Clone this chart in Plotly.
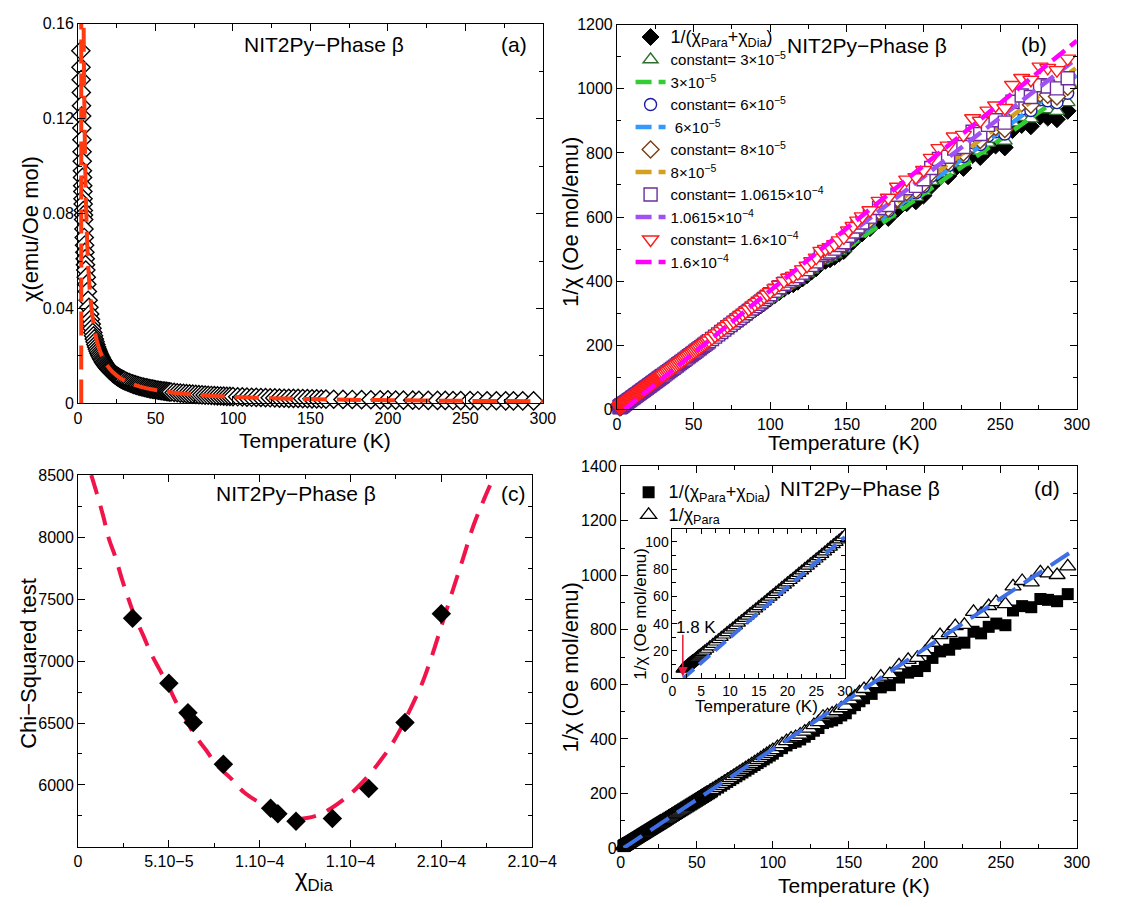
import plotly.graph_objects as go

FONT = "Liberation Sans, Arial, Helvetica, sans-serif"
W, H = 1135, 907


def px(x):
    return x / W


def py(y):
    return 1 - y / H


# ---------------------------------------------------------------------------
# Measured data: temperature (K) and 1/chi of the raw susceptibility (Oe mol/emu)
# ---------------------------------------------------------------------------
temperature_K = [
    1.8, 1.9, 2.0, 2.1, 2.2, 2.3, 2.4, 2.5, 2.6, 2.7, 2.8, 2.9, 3.0, 3.1, 3.2, 3.3,
    3.4, 3.5, 3.6, 3.8, 4.0, 4.2, 4.4, 4.6, 4.8, 5.0, 5.3, 5.6, 6.0, 6.5, 7.0, 7.5,
    8.0, 8.5, 9.0, 9.5, 10.0, 10.5, 11.0, 11.5, 12.0, 12.5, 13.0, 13.5, 14.0, 14.5,
    15.0, 15.5, 16.0, 16.5, 17.0, 17.5, 18.0, 18.5, 19.0, 19.5, 20.0, 20.5, 21.0,
    21.5, 22.0, 22.5, 23.0, 23.5, 24.0, 24.5, 25.0, 25.5, 26.0, 26.5, 27.0, 27.5,
    28.0, 28.5, 29.0, 29.5, 30.0,
    31, 32, 33, 34, 35, 36, 37, 38, 39, 40, 41, 42, 43, 44, 45, 46, 47, 48, 49, 50,
    51, 52, 53, 54, 55, 56, 57, 58, 59, 60,
    62, 64, 66, 68, 70, 72, 74, 76, 78, 80, 82, 84, 86, 88, 90, 92, 94, 96, 98, 100,
    103, 106, 109, 112, 115, 118, 121, 124, 127, 130, 133, 136, 139, 142, 145, 148,
    151, 154, 157, 160, 165, 171, 177, 183, 189, 195, 200, 205, 210, 216, 220, 226,
    232, 237, 242, 247, 253, 258, 264, 270, 276, 281, 287, 294,
]
inv_chi_total = [
    6.73, 7.06, 7.33, 7.63, 7.97, 8.26, 8.62, 9.00, 9.43, 9.80, 10.2, 10.5, 10.9, 11.2,
    11.6, 11.9, 12.3, 12.6, 12.9, 13.6, 14.3, 15.0, 15.7, 16.4, 17.1, 17.8, 18.8, 19.9,
    21.2, 23.0, 24.7, 26.5, 28.2, 29.9, 31.6, 33.4, 35.1, 36.8, 38.5, 40.3, 42.0, 43.7,
    45.4, 47.2, 48.9, 50.6, 52.3, 54.0, 55.7, 57.5, 59.2, 60.9, 62.6, 64.4, 66.1, 67.8,
    69.5, 71.2, 72.9, 74.7, 76.4, 78.1, 79.8, 81.5, 83.3, 85.0, 86.7, 88.4, 90.1, 91.8,
    93.6, 95.3, 97.0, 98.7, 100.4, 102.1, 103.8,
    107.3, 110.8, 114.2, 117.7, 121.1, 124.6, 128.0, 131.5, 135.0, 138.4, 141.9, 145.3,
    148.8, 152.3, 155.7, 159.2, 162.6, 166.1, 169.5, 173.0, 176.5, 179.9, 183.4, 186.8,
    190.3, 193.8, 197.2, 200.7, 204.1, 207.6,
    214.5, 221.4, 228.3, 235.3, 242.2, 249.1, 256.0, 262.9, 269.8, 276.7, 283.6, 290.5,
    297.4, 304.3, 311.2, 318.1, 325.0, 331.9, 338.8, 345.7,
    356, 366, 376, 385, 390, 398, 408, 418, 430, 440, 458, 463, 468, 476, 486, 494,
    512, 524, 538, 549, 565, 589, 597, 625, 643, 649, 667, 697, 721, 727, 749, 753,
    793, 787, 811, 823, 817, 871, 887, 883, 913, 910, 905, 931,
]
chi_total = [1.0 / v for v in inv_chi_total]

# Curie-Weiss fit of chi(T) drawn in panel (a)
fit_a_T = [2.6, 3.0, 3.5, 4.0, 4.5, 5.0, 6.0, 7.0, 8.0, 10, 12, 15, 20, 25, 30, 40,
           50, 70, 100, 150, 200, 250, 300]
fit_a_chi = [0.3875, 0.2463, 0.1694, 0.1290, 0.1043, 0.0874, 0.0661, 0.0531, 0.0444,
             0.03346, 0.02683, 0.02069, 0.01497, 0.01173, 0.00964, 0.00711, 0.00563,
             0.00398, 0.00276, 0.00183, 0.00137, 0.00109, 0.00091]
asymptote_T = [2.05, 2.05]
asymptote_chi = [0.0, 0.16]

# Panel (b): constant subtracted from chi, and the linear fits to each set
dia_constants = [3e-5, 6e-5, 8e-5, 1.0615e-4, 1.6e-4]
constant_labels = ["3×10<sup>−5</sup>", "6×10<sup>−5</sup>", "8×10<sup>−5</sup>",
                   "1.0615×10<sup>−4</sup>", "1.6×10<sup>−4</sup>"]
fit_b_T_start = [2.0, 2.5, 3.0, 3.5, 5.0]
fit_b_T_end = [300, 300, 300, 300, 300]
fit_b_inv_end = [1011, 1042, 1067, 1095, 1150]

# Panel (c): chi-squared of the fits versus the diamagnetic constant
chi_dia_tested = [3.0e-5, 5.0e-5, 6.05e-5, 6.34e-5, 8.0e-5, 1.06e-4, 1.10e-4,
                  1.20e-4, 1.40e-4, 1.60e-4, 1.80e-4, 2.00e-4]
chi2_values = [7345, 6820, 6582, 6505, 6168, 5813, 5768, 5708, 5729, 5971, 6505, 7382]
chi2_curve_x = [0.727e-5, 1.015e-5, 1.397e-5, 1.684e-5, 2.067e-5, 2.412e-5, 2.737e-5,
                3.120e-5, 3.599e-5, 3.982e-5, 4.460e-5, 4.939e-5, 5.417e-5, 5.896e-5,
                6.374e-5, 7.044e-5, 7.619e-5, 8.384e-5, 9.150e-5, 1.011e-4, 1.106e-4,
                1.183e-4, 1.260e-4, 1.327e-4, 1.394e-4, 1.470e-4, 1.528e-4, 1.604e-4,
                1.661e-4, 1.719e-4, 1.776e-4, 1.824e-4, 1.891e-4, 1.949e-4, 2.006e-4,
                2.063e-4, 2.121e-4, 2.178e-4, 2.236e-4, 2.293e-4]
chi2_curve_y = [8500, 8361, 8163, 7992, 7834, 7663, 7518, 7361, 7203, 7071, 6939, 6808,
                6663, 6545, 6413, 6282, 6163, 6058, 5939, 5847, 5768, 5729, 5734, 5760,
                5813, 5892, 5966, 6084, 6189, 6308, 6453, 6597, 6808, 7045, 7308, 7571,
                7834, 8097, 8308, 8500]
chi2_ticks = [0, 5e-5, 1e-4, 1.5e-4, 2e-4, 2.5e-4]
chi2_ticktext = ["0", "5.10−5", "1.10−4", "1.10−4", "2.10−4", "2.10−4"]

# Panel (d): corrected data with the best constant and its Curie-Weiss line
best_constant = 1.0615e-4
cw_line_T = [1.9, 300]
cw_line_inv = [0, 1100]
inset_line_T = [1.9, 30]
inset_line_inv = [0, 103.7]

inv_chi_para = [1.0 / (1.0 / v - best_constant) for v in inv_chi_total]

fig = go.Figure()

# ---------------- panel (a) ----------------
fig.add_trace(go.Scatter(
    x=temperature_K, y=chi_total, mode="markers", xaxis="x", yaxis="y",
    marker=dict(symbol="diamond", size=14, color="white",
                line=dict(color="black", width=1.4)),
    cliponaxis=False, showlegend=False))
fig.add_trace(go.Scatter(
    x=asymptote_T, y=asymptote_chi, mode="lines", xaxis="x", yaxis="y",
    line=dict(color="#ff3b12", width=4, dash="24px,10px"), showlegend=False))
fig.add_trace(go.Scatter(
    x=fit_a_T, y=fit_a_chi, mode="lines", xaxis="x", yaxis="y", line_shape="spline",
    line=dict(color="#ff3b12", width=4, dash="24px,10px"), showlegend=False))

# ---------------- panel (b) ----------------
fig.add_trace(go.Scatter(
    x=temperature_K, y=inv_chi_total, mode="markers", xaxis="x2", yaxis="y2",
    name="<span style='font-size:18px'>1/(χ<sub>Para</sub>+χ<sub>Dia</sub>)</span>",
    marker=dict(symbol="diamond", size=13, color="black",
                line=dict(color="black", width=1)),
    cliponaxis=False, legend="legend"))

marker_symbols = ["triangle-up", "circle", "diamond", "square", "triangle-down"]
marker_sizes = [13, 12, 13, 13, 14]
marker_colors = ["#2e6e2e", "#1c1ca8", "#7a3e12", "#6b2d9c", "#ff1a1a"]
line_colors = ["#33cc33", "#3399ff", "#d4a020", "#a050f5", "#ff00ff"]

for i, c in enumerate(dia_constants):
    corrected = [1.0 / (1.0 / v - c) for v in inv_chi_total]
    fig.add_trace(go.Scatter(
        x=temperature_K, y=corrected, mode="markers", xaxis="x2", yaxis="y2",
        name="constant= " + constant_labels[i],
        marker=dict(symbol=marker_symbols[i], size=marker_sizes[i], color="white",
                    line=dict(color=marker_colors[i], width=1.4)),
        cliponaxis=False, legend="legend"))
    fig.add_trace(go.Scatter(
        x=[fit_b_T_start[i], fit_b_T_end[i]], y=[0, fit_b_inv_end[i]], mode="lines",
        xaxis="x2", yaxis="y2",
        name=(" " + constant_labels[i]) if i == 1 else constant_labels[i],
        line=dict(color=line_colors[i], width=4.5, dash="16px,7px"),
        legend="legend"))

# ---------------- panel (c) ----------------
fig.add_trace(go.Scatter(
    x=chi2_curve_x, y=chi2_curve_y, mode="lines", xaxis="x3", yaxis="y3",
    line_shape="spline", line=dict(color="#f0144a", width=4, dash="20px,12px"),
    showlegend=False))
fig.add_trace(go.Scatter(
    x=chi_dia_tested, y=chi2_values, mode="markers", xaxis="x3", yaxis="y3",
    marker=dict(symbol="diamond", size=15, color="black"), showlegend=False))

# ---------------- panel (d) ----------------
fig.add_trace(go.Scatter(
    x=temperature_K, y=inv_chi_total, mode="markers", xaxis="x4", yaxis="y4",
    name="<span style='font-size:18px'>1/(χ<sub>Para</sub>+χ<sub>Dia</sub>)</span>",
    marker=dict(symbol="square", size=12, color="black"),
    cliponaxis=False, legend="legend2"))
fig.add_trace(go.Scatter(
    x=temperature_K, y=inv_chi_para, mode="markers", xaxis="x4", yaxis="y4",
    name="<span style='font-size:18px'>1/χ<sub>Para</sub></span>",
    marker=dict(symbol="triangle-up", size=14, color="white",
                line=dict(color="black", width=1.3)),
    cliponaxis=False, legend="legend2"))
fig.add_trace(go.Scatter(
    x=cw_line_T, y=cw_line_inv, mode="lines", xaxis="x4", yaxis="y4",
    line=dict(color="#3f6fe6", width=4, dash="22px,10px"), showlegend=False))

# inset of panel (d)
inset_T = [t for t in temperature_K if t <= 30]
inset_inv = inv_chi_para[:len(inset_T)]
fig.add_trace(go.Scatter(
    x=inset_T, y=inset_inv, mode="markers", xaxis="x5", yaxis="y5",
    marker=dict(symbol="triangle-up", size=12, color="white",
                line=dict(color="black", width=1.2)),
    showlegend=False))
fig.add_trace(go.Scatter(
    x=inset_line_T, y=inset_line_inv, mode="lines", xaxis="x5", yaxis="y5",
    line=dict(color="#3f6fe6", width=4, dash="14px,7px"), showlegend=False))


def axis(domain, rng, anchor, tickfont=16, **kw):
    d = dict(domain=domain, range=rng, anchor=anchor, showline=True, linecolor="black",
             linewidth=1, mirror="allticks", ticks="inside", ticklen=7, tickwidth=1,
             tickcolor="black", showgrid=False, zeroline=False,
             tickfont=dict(family=FONT, size=tickfont, color="black"))
    minor = kw.pop("minor_dtick", None)
    if minor is not None:
        d["minor"] = dict(dtick=minor, ticks="inside", ticklen=4, tickcolor="black",
                          showgrid=False)
    d.update(kw)
    return d


layout = dict(
    width=W, height=H, margin=dict(l=0, r=0, t=0, b=0),
    paper_bgcolor="white", plot_bgcolor="white",
    font=dict(family=FONT, color="black"),
    xaxis=axis([px(76), px(553)], [0, 300], "y", dtick=50, minor_dtick=25),
    yaxis=axis([py(403), py(16)], [0, 0.16], "x", dtick=0.04, minor_dtick=0.02),
    xaxis2=axis([px(629), px(1101)], [0, 300], "y2", dtick=50, minor_dtick=25),
    yaxis2=axis([py(409), py(17)], [0, 1200], "x2", dtick=200, minor_dtick=100),
    xaxis3=axis([px(76), px(542)], [0, 2.5e-4], "y3", tickvals=chi2_ticks,
                ticktext=chi2_ticktext, minor_dtick=2.5e-5),
    yaxis3=axis([py(855), py(476)], [5500, 8500], "x3",
                tickvals=[6000, 6500, 7000, 7500, 8000, 8500], minor_dtick=250),
    xaxis4=axis([px(633), px(1101)], [0, 300], "y4", dtick=50, minor_dtick=25),
    yaxis4=axis([py(856), py(467)], [0, 1400], "x4", dtick=200, minor_dtick=100),
    xaxis5=axis([px(686), px(863)], [0, 30], "y5", tickfont=14, dtick=5,
                minor_dtick=2.5, ticklen=5),
    yaxis5=axis([py(683), py(531)], [0, 109.5], "x5", tickfont=14, dtick=20,
                minor_dtick=10, ticklen=5),
    legend=dict(x=px(643), y=py(13), xanchor="left", yanchor="top",
                bgcolor="rgba(0,0,0,0)", font=dict(family=FONT, size=15, color="black"),
                tracegroupgap=0, itemwidth=30, traceorder="normal"),
    legend2=dict(x=px(641), y=py(477), xanchor="left", yanchor="top",
                 bgcolor="rgba(0,0,0,0)", font=dict(family=FONT, size=15, color="black"),
                 tracegroupgap=0, itemwidth=30, traceorder="normal"),
)
fig.update_layout(**layout)


def text(x, y, s, size=21, angle=0):
    fig.add_annotation(x=px(x), y=py(y), xref="paper", yref="paper", text=s,
                       showarrow=False, textangle=angle, xanchor="center",
                       yanchor="middle", font=dict(family=FONT, size=size, color="black"))


# panel labels and titles
text(328, 37, "NIT2Py−Phase β")
text(523, 37, "(a)")
text(886, 38, "NIT2Py−Phase β")
text(1057, 37, "(b)")
text(300, 495, "NIT2Py−Phase β")
text(523, 495, "(c)")
text(878, 490, "NIT2Py−Phase β")
text(1070, 490, "(d)")

# axis titles
text(27, 225, "χ(emu/Oe mol)", 22, -90)
text(319, 441, "Temperature (K)", 21)
text(582, 218, "1/χ (Oe mol/emu)", 22, -90)
text(862, 443, "Temperature (K)", 21)
text(25, 668, "Chi−Squared test", 22, -90)
text(318, 888, "χ<sub>Dia</sub>", 24)
text(581, 672, "1/χ (Oe mol/emu)", 22, -90)
text(872, 894, "Temperature (K)", 21)
text(653, 617, "1/χ (Oe mol/emu)", 17, -90)
text(772, 712, "Temperature (K)", 17)
text(710, 631, "1.8 K", 17)

# arrow marking the lowest temperature in the inset
fig.add_annotation(x=1.8, y=1, xref="x5", yref="y5", ax=1.8, ay=33, axref="x5",
                   ayref="y5", text="", showarrow=True, arrowhead=2, arrowsize=1.3,
                   arrowwidth=1.5, arrowcolor="#e8173a")

fig.write_html("out.html")
